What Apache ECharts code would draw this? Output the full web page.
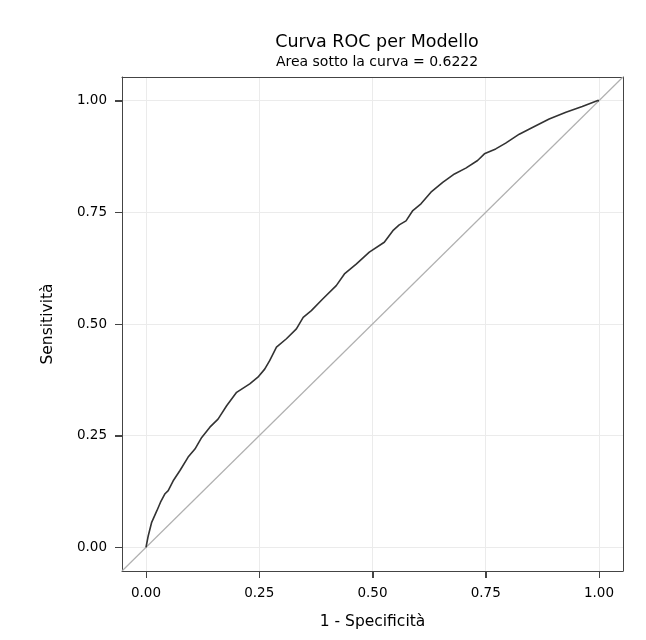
<!DOCTYPE html>
<html>
<head>
<meta charset="utf-8">
<script src="https://cdn.jsdelivr.net/npm/echarts@6/dist/echarts.min.js"></script>
<style>html,body{margin:0;padding:0;background:#fff}#c{width:646px;height:640px}</style>
</head>
<body>
<div id="c"></div>
<script>
var titleText = "Curva ROC per Modello";
var subtitleText = "Area sotto la curva = 0.6222";
var xAxisName = "1 - Specificità";
var yAxisName = "Sensitività";
var tickValues = [0, 0.25, 0.5, 0.75, 1];

// ROC curve: 1 - specificity (x) and sensitivity (y)
var rocX = [0, 0.0015, 0.005, 0.0125, 0.024, 0.032, 0.042, 0.049, 0.06, 0.075, 0.093, 0.108, 0.123, 0.141, 0.159, 0.178, 0.2, 0.229, 0.247, 0.262, 0.273, 0.288, 0.31, 0.332, 0.347, 0.365, 0.39, 0.42, 0.438, 0.464, 0.493, 0.526, 0.545, 0.559, 0.574, 0.589, 0.607, 0.629, 0.655, 0.681, 0.706, 0.732, 0.747, 0.772, 0.794, 0.824, 0.853, 0.89, 0.927, 0.963, 0.996, 1];
var rocY = [0, 0.008, 0.026, 0.056, 0.082, 0.101, 0.12, 0.127, 0.149, 0.172, 0.202, 0.22, 0.246, 0.269, 0.287, 0.317, 0.347, 0.366, 0.381, 0.399, 0.418, 0.448, 0.467, 0.489, 0.515, 0.53, 0.556, 0.586, 0.612, 0.634, 0.661, 0.683, 0.709, 0.722, 0.731, 0.754, 0.769, 0.795, 0.817, 0.836, 0.849, 0.866, 0.881, 0.892, 0.905, 0.925, 0.94, 0.959, 0.974, 0.987, 1.0, 1];
// Reference diagonal
var diagX = [-0.053, 1.053];
var diagY = [-0.053, 1.053];

var axisMin = -0.053, axisMax = 1.053;

var rocData = rocX.map(function (x, i) { return [x, rocY[i]]; });
var diagData = diagX.map(function (x, i) { return [x, diagY[i]]; });
var xTickData = tickValues.map(function (v) { return [v, axisMin]; });
var yTickData = tickValues.map(function (v) { return [axisMin, v]; });

var font = "'DejaVu Sans', sans-serif";
var frameColor = '#444';
var tickLen = 7;
var chart = echarts.init(document.getElementById('c'));
function mainAxis(name, isY) {
  return {
    type: 'value',
    position: isY ? 'left' : 'bottom',
    min: axisMin,
    max: axisMax,
    name: name,
    nameLocation: 'middle',
    nameGap: isY ? 66 : 43,
    nameTextStyle: { fontFamily: font, fontSize: 15.5, color: '#000' },
    axisLine: { show: true, onZero: false, lineStyle: { color: frameColor, width: 1 } },
    axisTick: { show: true, customValues: tickValues, length: tickLen, lineStyle: { color: frameColor, width: 1 } },
    axisLabel: { show: true, customValues: tickValues, margin: 15, fontFamily: font, fontSize: 13.5, color: '#000',
      formatter: function (v) { return v.toFixed(2); } },
    splitLine: { show: true, lineStyle: { color: '#ebebeb', width: 1 } }
  };
}
function frameAxis(isY) {
  return {
    type: 'value',
    position: isY ? 'right' : 'top',
    min: axisMin,
    max: axisMax,
    axisLine: { show: true, onZero: false, lineStyle: { color: frameColor, width: 1 } },
    axisTick: { show: false },
    axisLabel: { show: false },
    splitLine: { show: false }
  };
}
function tickSeries(data, isY) {
  return {
    type: 'custom', silent: true, clip: false, z: 5, data: data,
    renderItem: function (params, api) {
      var p = api.coord([api.value(0), api.value(1)]);
      var shape;
      if (isY) {
        var yy = Math.round(p[1]) + 0.5;
        shape = { x1: p[0] - tickLen, y1: yy, x2: p[0], y2: yy };
      } else {
        var xx = Math.round(p[0]) + 0.5;
        shape = { x1: xx, y1: p[1], x2: xx, y2: p[1] + tickLen };
      }
      return { type: 'line', shape: shape, style: { stroke: frameColor, lineWidth: 1 } };
    }
  };
}
chart.setOption({
  animation: false,
  backgroundColor: '#fff',
  title: [
    { text: titleText, left: 372, top: 28, textAlign: 'center',
      textStyle: { fontFamily: font, fontSize: 17.5, fontWeight: 'normal', color: '#000' } },
    { text: subtitleText, left: 372, top: 50, textAlign: 'center',
      textStyle: { fontFamily: font, fontSize: 14, fontWeight: 'normal', color: '#000' } }
  ],
  grid: { left: 122, right: 23, top: 77, bottom: 69 },
  xAxis: [mainAxis(xAxisName, false), frameAxis(false)],
  yAxis: [mainAxis(yAxisName, true), frameAxis(true)],
  series: [
    { type: 'line', data: diagData, symbol: 'none', silent: true,
      lineStyle: { color: '#b0b0b0', width: 1.2 }, z: 2 },
    { type: 'line', data: rocData, symbol: 'none', silent: true,
      lineStyle: { color: '#333', width: 1.6 }, z: 3 },
    tickSeries(xTickData, false),
    tickSeries(yTickData, true)
  ]
});
</script>
</body>
</html>
